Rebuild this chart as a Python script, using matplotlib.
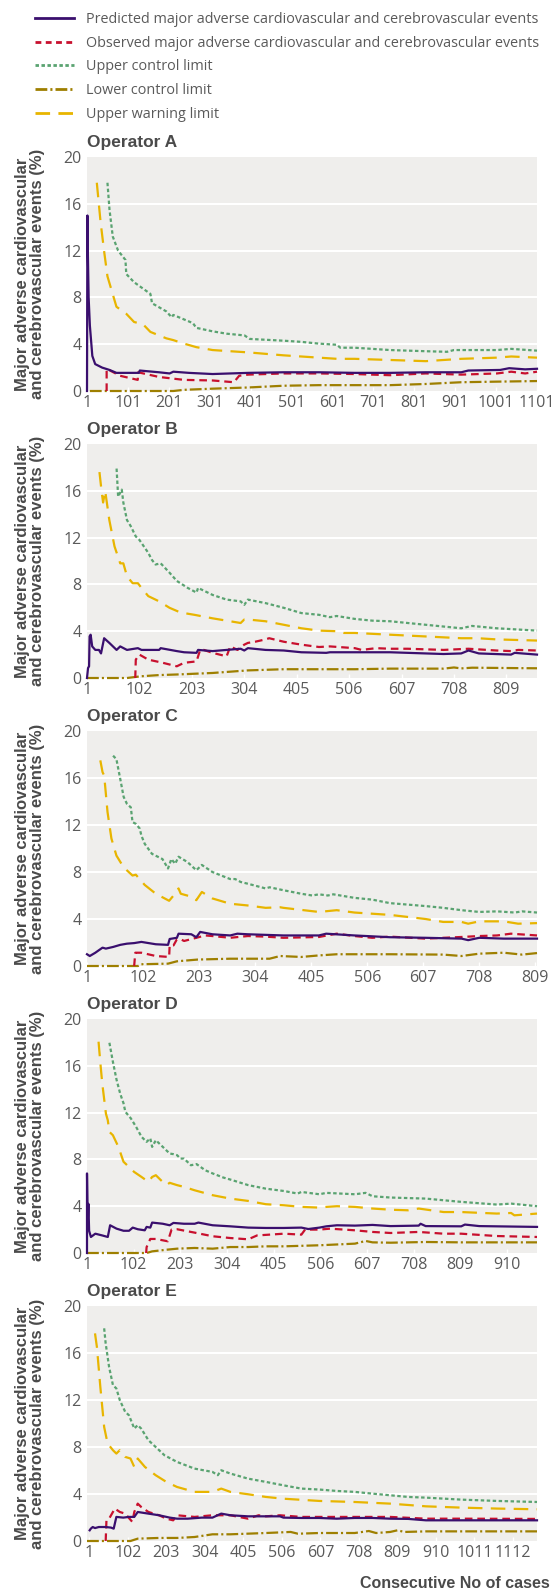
import matplotlib
matplotlib.use("Agg")
import matplotlib.pyplot as plt
from matplotlib.lines import Line2D

plt.rcParams['lines.scale_dashes'] = False

# ---- data (x = consecutive case number, y = %) ----
# Operator A
a_pred_x = [1, 2, 3, 5, 8, 14, 21, 38, 56, 73, 128, 130, 177, 203, 212, 250, 308, 395, 481, 568, 655, 742, 829, 916, 933, 1011, 1033, 1072, 1101]
a_pred_y = [0, 15, 12, 8, 5.6, 3.0, 2.3, 2.0, 1.8, 1.55, 1.55, 1.75, 1.6, 1.5, 1.65, 1.55, 1.45, 1.55, 1.6, 1.6, 1.55, 1.55, 1.6, 1.6, 1.75, 1.8, 1.95, 1.85, 1.9]
a_obs_x = [49, 49, 82, 125, 126, 177, 238, 308, 360, 373, 395, 481, 568, 655, 742, 829, 916, 1003, 1038, 1072, 1101]
a_obs_y = [0, 1.9, 1.3, 0.95, 1.6, 1.2, 0.95, 0.9, 0.75, 1.3, 1.4, 1.5, 1.5, 1.45, 1.35, 1.5, 1.4, 1.5, 1.65, 1.5, 1.65]
a_ucl_x = [51, 56, 64, 77, 95, 97, 116, 156, 160, 195, 208, 212, 260, 268, 308, 342, 386, 399, 481, 525, 568, 612, 620, 655, 742, 829, 881, 898, 1003, 1038, 1101]
a_ucl_y = [17.8, 15.5, 13.2, 12.0, 11.2, 10.0, 9.3, 8.3, 7.5, 6.8, 6.3, 6.5, 5.8, 5.4, 5.1, 4.9, 4.75, 4.45, 4.3, 4.2, 4.05, 3.95, 3.7, 3.7, 3.5, 3.4, 3.35, 3.5, 3.5, 3.6, 3.45]
a_uwl_x = [25, 34, 43, 51, 73, 97, 116, 138, 156, 195, 212, 238, 268, 308, 351, 395, 481, 568, 612, 655, 742, 829, 916, 1003, 1038, 1101]
a_uwl_y = [17.8, 14.5, 11.9, 9.8, 7.2, 6.6, 5.9, 5.7, 5.05, 4.5, 4.35, 4.05, 3.75, 3.5, 3.4, 3.3, 3.05, 2.85, 2.75, 2.75, 2.65, 2.55, 2.75, 2.85, 2.95, 2.85]
a_lcl_x = [8, 212, 238, 308, 395, 481, 568, 655, 742, 829, 916, 1003, 1101]
a_lcl_y = [0, 0, 0.1, 0.2, 0.3, 0.45, 0.5, 0.5, 0.5, 0.6, 0.75, 0.8, 0.85]
a_ticks = [1, 101, 201, 301, 401, 501, 601, 701, 801, 901, 1001, 1101]

# Operator B
b_pred_x = [1, 3, 5, 6, 8, 11, 17, 24, 28, 34, 44, 58, 65, 78, 99, 106, 140, 143, 174, 188, 212, 215, 243, 270, 297, 304, 311, 345, 380, 414, 462, 469, 517, 585, 619, 688, 722, 736, 756, 818, 825, 868]
b_pred_y = [0, 0.85, 1.0, 3.56, 3.7, 2.7, 2.4, 2.4, 2.1, 3.4, 3.0, 2.4, 2.7, 2.4, 2.55, 2.4, 2.4, 2.55, 2.3, 2.2, 2.15, 2.4, 2.3, 2.4, 2.5, 2.35, 2.55, 2.4, 2.35, 2.2, 2.15, 2.2, 2.2, 2.2, 2.15, 2.05, 2.1, 2.35, 2.1, 2.0, 2.15, 2.0]
b_obs_x = [94, 95, 102, 119, 147, 174, 188, 212, 219, 226, 243, 270, 277, 291, 304, 311, 325, 345, 352, 380, 414, 448, 469, 517, 530, 558, 585, 619, 688, 736, 790, 818, 832, 868]
b_obs_y = [0, 1.57, 2.0, 1.57, 1.3, 1.0, 1.3, 1.42, 2.4, 2.4, 2.15, 1.85, 2.7, 2.4, 2.85, 3.0, 3.1, 3.3, 3.4, 3.1, 2.85, 2.65, 2.7, 2.55, 2.4, 2.55, 2.5, 2.5, 2.4, 2.5, 2.35, 2.3, 2.4, 2.35]
b_ucl_x = [58, 61, 68, 71, 78, 85, 95, 102, 119, 126, 133, 143, 160, 174, 195, 212, 215, 243, 270, 297, 304, 311, 345, 380, 414, 448, 469, 482, 517, 551, 585, 619, 722, 743, 790, 868]
b_ucl_y = [17.9, 15.5, 16.1, 15.0, 13.5, 13.0, 12.1, 11.8, 10.7, 10.1, 9.7, 9.8, 9.0, 8.3, 7.7, 7.3, 7.7, 7.1, 6.7, 6.55, 6.25, 6.7, 6.4, 6.0, 5.55, 5.4, 5.2, 5.3, 5.05, 4.9, 4.85, 4.7, 4.25, 4.45, 4.25, 4.05]
b_uwl_x = [25, 29, 32, 36, 44, 54, 65, 71, 78, 89, 99, 106, 119, 140, 160, 181, 208, 243, 270, 297, 304, 311, 345, 380, 414, 448, 482, 496, 517, 585, 654, 722, 754, 790, 868]
b_uwl_y = [17.6, 16.0, 15.0, 16.0, 13.5, 11.25, 9.8, 9.8, 8.7, 8.1, 8.1, 7.7, 7.0, 6.55, 6.0, 5.6, 5.4, 5.1, 4.9, 4.7, 5.0, 5.0, 4.85, 4.55, 4.25, 4.05, 4.0, 3.85, 3.85, 3.7, 3.55, 3.4, 3.4, 3.3, 3.2]
b_lcl_x = [1, 78, 106, 140, 174, 243, 311, 345, 380, 448, 517, 585, 688, 708, 722, 743, 868]
b_lcl_y = [0, 0, 0.15, 0.25, 0.3, 0.43, 0.65, 0.7, 0.75, 0.75, 0.75, 0.8, 0.8, 0.9, 0.82, 0.88, 0.83]
b_ticks = [1, 102, 203, 304, 405, 506, 607, 708, 809]

# Operator C
c_pred_x = [1, 6, 16, 22, 29, 35, 48, 61, 73, 86, 99, 112, 125, 147, 150, 163, 166, 189, 198, 205, 227, 259, 272, 291, 355, 419, 432, 483, 547, 611, 676, 688, 708, 752, 812]
c_pred_y = [1.0, 0.85, 1.13, 1.33, 1.56, 1.48, 1.62, 1.8, 1.9, 1.95, 2.05, 1.95, 1.85, 1.8, 2.3, 2.4, 2.75, 2.7, 2.45, 2.9, 2.7, 2.6, 2.75, 2.7, 2.6, 2.6, 2.75, 2.6, 2.45, 2.4, 2.33, 2.2, 2.4, 2.33, 2.33]
c_obs_x = [86, 88, 99, 125, 149, 150, 157, 163, 170, 176, 198, 214, 227, 259, 291, 323, 355, 419, 451, 483, 515, 547, 611, 676, 708, 740, 765, 812]
c_obs_y = [0, 1.13, 1.13, 0.85, 0.77, 1.76, 1.76, 2.27, 2.27, 2.13, 2.4, 2.6, 2.55, 2.4, 2.55, 2.5, 2.4, 2.47, 2.75, 2.55, 2.4, 2.5, 2.33, 2.47, 2.55, 2.6, 2.75, 2.6]
c_ucl_x = [48, 54, 61, 67, 73, 80, 83, 89, 96, 99, 105, 118, 137, 147, 153, 160, 166, 182, 198, 208, 227, 259, 268, 278, 291, 323, 330, 355, 387, 407, 419, 435, 445, 483, 515, 547, 611, 643, 676, 708, 740, 772, 785, 812]
c_ucl_y = [17.9, 17.6, 15.9, 14.4, 13.8, 13.5, 12.25, 12.1, 11.7, 11.1, 10.4, 9.55, 9.1, 8.3, 9.1, 8.7, 9.3, 8.85, 8.15, 8.6, 8.0, 7.4, 7.4, 7.15, 7.0, 6.6, 6.7, 6.45, 6.15, 6.0, 6.1, 6.0, 6.1, 5.8, 5.65, 5.35, 5.1, 4.95, 4.75, 4.6, 4.65, 4.55, 4.65, 4.55]
c_uwl_x = [25, 29, 32, 38, 45, 54, 67, 83, 89, 105, 125, 149, 157, 163, 166, 170, 189, 198, 208, 227, 259, 291, 323, 349, 355, 419, 451, 483, 547, 611, 643, 676, 688, 708, 752, 778, 812]
c_uwl_y = [17.5, 16.5, 16.2, 13.1, 10.85, 9.4, 8.4, 7.7, 7.77, 6.9, 6.15, 5.55, 6.0, 6.45, 6.6, 6.15, 5.9, 5.6, 6.3, 5.75, 5.3, 5.15, 4.95, 5.0, 4.95, 4.6, 4.75, 4.55, 4.35, 4.0, 3.75, 3.75, 3.6, 3.8, 3.8, 3.6, 3.65]
c_lcl_x = [1, 93, 99, 147, 163, 201, 259, 330, 349, 387, 419, 451, 547, 643, 676, 708, 752, 785, 812]
c_lcl_y = [0, 0, 0.15, 0.2, 0.4, 0.55, 0.62, 0.62, 0.85, 0.77, 0.9, 1.0, 1.0, 0.97, 0.85, 1.05, 1.13, 0.97, 1.1]
c_ticks = [1, 102, 203, 304, 405, 506, 607, 708, 809]

# Operator D
d_pred_x = [1, 1, 2.5, 4, 5.6, 9.5, 19, 34, 46, 51, 65, 80, 92, 100, 111, 126, 130, 138, 142, 165, 180, 188, 211, 234, 242, 273, 311, 350, 388, 427, 465, 480, 504, 519, 542, 581, 619, 658, 719, 723, 734, 811, 819, 850, 975]
d_pred_y = [0, 6.8, 2.5, 4.2, 1.9, 1.37, 1.65, 1.5, 1.37, 2.37, 2.08, 1.9, 1.9, 2.17, 2.03, 1.94, 2.23, 2.17, 2.6, 2.5, 2.37, 2.57, 2.5, 2.5, 2.6, 2.37, 2.28, 2.17, 2.14, 2.14, 2.17, 2.05, 2.17, 2.28, 2.37, 2.34, 2.4, 2.3, 2.34, 2.5, 2.3, 2.28, 2.43, 2.3, 2.23]
d_obs_x = [129, 130, 138, 150, 176, 184, 196, 234, 273, 311, 350, 369, 427, 465, 473, 504, 527, 581, 619, 658, 719, 773, 811, 888, 975]
d_obs_y = [0, 0.5, 1.2, 1.2, 1.0, 2.0, 2.03, 1.74, 1.43, 1.28, 1.17, 1.5, 1.65, 1.57, 2.0, 2.0, 2.08, 1.94, 1.8, 1.71, 1.8, 1.65, 1.65, 1.45, 1.37]
d_ucl_x = [49.5, 57, 65, 73, 80, 84, 96, 107, 119, 130, 138, 142, 150, 165, 180, 188, 196, 203, 211, 226, 238, 257, 273, 296, 311, 350, 388, 427, 457, 465, 504, 519, 581, 604, 619, 658, 734, 811, 888, 919, 975]
d_ucl_y = [17.97, 16.35, 14.8, 13.6, 12.8, 12.07, 11.5, 10.8, 9.93, 9.5, 9.8, 9.07, 9.64, 9.07, 8.5, 8.45, 8.36, 8.07, 8.07, 7.5, 7.6, 7.07, 6.8, 6.45, 6.28, 5.8, 5.5, 5.3, 5.08, 5.22, 5.02, 5.14, 5.02, 5.14, 4.85, 4.74, 4.65, 4.37, 4.14, 4.22, 4.0]
d_uwl_x = [26, 30, 34, 42, 46, 49.5, 57, 69, 80, 88, 103, 119, 134, 142, 150, 161, 173, 180, 196, 211, 234, 273, 311, 350, 388, 427, 465, 504, 519, 542, 581, 619, 658, 696, 719, 773, 811, 888, 919, 926, 975]
d_uwl_y = [18.06, 16.2, 14.5, 11.9, 11.35, 10.35, 10.07, 9.07, 7.8, 7.5, 6.93, 6.5, 6.08, 6.5, 6.65, 6.22, 5.8, 6.0, 5.8, 5.65, 5.36, 4.94, 4.65, 4.45, 4.17, 4.08, 3.94, 3.88, 3.94, 4.0, 3.94, 3.8, 3.7, 3.65, 3.8, 3.5, 3.5, 3.37, 3.42, 3.22, 3.37]
d_lcl_x = [1, 130, 142, 173, 196, 234, 273, 311, 350, 388, 427, 504, 581, 604, 619, 658, 734, 811, 975]
d_lcl_y = [0, 0, 0.14, 0.28, 0.37, 0.43, 0.37, 0.51, 0.51, 0.57, 0.57, 0.66, 0.8, 1.03, 0.91, 0.88, 0.94, 0.91, 0.91]
d_ticks = [1, 102, 203, 304, 405, 506, 607, 708, 809, 910]

# Operator E
e_pred_x = [2, 5, 10, 16, 26, 44, 58, 65, 72, 90, 105, 119, 128, 156, 184, 212, 231, 259, 296, 324, 347, 371, 417, 464, 501, 510, 557, 604, 650, 697, 744, 790, 837, 884, 977, 1070, 1175]
e_pred_y = [0.91, 1.05, 1.19, 1.1, 1.19, 1.19, 1.14, 1.05, 2.05, 1.99, 2.05, 2.05, 2.47, 2.33, 2.19, 1.99, 1.9, 1.9, 1.99, 1.99, 2.33, 2.19, 2.1, 2.1, 2.1, 1.99, 1.96, 1.96, 1.9, 1.96, 1.96, 1.9, 1.88, 1.76, 1.76, 1.76, 1.76]
e_obs_x = [44, 46, 53, 68, 81, 95, 114, 119, 128, 137, 156, 184, 203, 221, 231, 277, 324, 371, 417, 445, 464, 501, 557, 604, 697, 790, 884, 977, 1175]
e_obs_y = [0, 1.76, 1.9, 2.76, 2.47, 2.33, 1.62, 2.47, 3.18, 2.9, 2.47, 2.19, 1.9, 1.76, 2.19, 2.05, 2.19, 2.19, 1.9, 2.19, 2.1, 2.19, 2.05, 2.05, 2.05, 2.05, 1.9, 1.9, 1.88]
e_ucl_x = [40, 44, 53, 63, 72, 81, 95, 105, 119, 128, 137, 156, 184, 198, 231, 277, 324, 338, 347, 371, 417, 464, 510, 557, 604, 650, 697, 744, 790, 837, 884, 977, 1070, 1175]
e_ucl_y = [18.1, 16.8, 14.8, 13.27, 12.98, 11.99, 11.0, 10.7, 9.57, 9.86, 9.57, 8.58, 7.73, 7.3, 6.73, 6.16, 5.88, 5.6, 6.02, 5.74, 5.31, 5.03, 4.74, 4.46, 4.38, 4.26, 4.18, 4.03, 3.89, 3.75, 3.69, 3.52, 3.41, 3.32]
e_uwl_x = [16, 21, 30, 40, 49, 63, 72, 81, 95, 109, 119, 128, 147, 175, 203, 231, 277, 296, 324, 347, 371, 417, 464, 510, 604, 697, 790, 884, 977, 1070, 1175]
e_uwl_y = [17.67, 16.5, 13.1, 9.7, 8.3, 7.73, 7.44, 7.73, 7.16, 7.02, 6.3, 7.02, 6.3, 5.6, 5.03, 4.6, 4.18, 4.18, 4.18, 4.46, 4.18, 3.98, 3.75, 3.6, 3.41, 3.32, 3.18, 2.95, 2.84, 2.76, 2.7]
e_lcl_x = [-5, 109, 128, 184, 231, 277, 324, 371, 464, 529, 548, 604, 697, 734, 753, 790, 809, 827, 884, 977, 1175]
e_lcl_y = [0, 0, 0.2, 0.26, 0.26, 0.34, 0.57, 0.57, 0.68, 0.77, 0.62, 0.68, 0.68, 0.85, 0.68, 0.77, 0.91, 0.77, 0.82, 0.82, 0.82]
e_ticks = [1, 102, 203, 304, 405, 506, 607, 708, 809, 910, 1011, 1112]

titles = ['Operator A', 'Operator B', 'Operator C', 'Operator D', 'Operator E']
xlims = [(1, 1101), (1, 868), (1, 812), (1, 975), (-5, 1175)]
yticks = [0, 4, 8, 12, 16, 20]

legend_labels = ['Predicted major adverse cardiovascular and cerebrovascular events',
                 'Observed major adverse cardiovascular and cerebrovascular events',
                 'Upper control limit',
                 'Lower control limit',
                 'Upper warning limit']

panels = [
    (a_pred_x, a_pred_y, a_obs_x, a_obs_y, a_ucl_x, a_ucl_y, a_lcl_x, a_lcl_y, a_uwl_x, a_uwl_y, a_ticks),
    (b_pred_x, b_pred_y, b_obs_x, b_obs_y, b_ucl_x, b_ucl_y, b_lcl_x, b_lcl_y, b_uwl_x, b_uwl_y, b_ticks),
    (c_pred_x, c_pred_y, c_obs_x, c_obs_y, c_ucl_x, c_ucl_y, c_lcl_x, c_lcl_y, c_uwl_x, c_uwl_y, c_ticks),
    (d_pred_x, d_pred_y, d_obs_x, d_obs_y, d_ucl_x, d_ucl_y, d_lcl_x, d_lcl_y, d_uwl_x, d_uwl_y, d_ticks),
    (e_pred_x, e_pred_y, e_obs_x, e_obs_y, e_ucl_x, e_ucl_y, e_lcl_x, e_lcl_y, e_uwl_x, e_uwl_y, e_ticks),
]

# ---- styles ----
c_pred = '#3a0f6e'
c_obs = '#c8102e'
c_ucl = '#5aa371'
c_lcl = '#9e7f00'
c_uwl = '#e8b500'
bg = '#efeeec'
txt = '#5a5a5a'
lw = 1.6
bold_font = 'Liberation Sans'
tick_font = 'Open Sans'

W, H = 555, 1592
fig = plt.figure(figsize=(W / 100, H / 100), dpi=100)

# axes box in pixels: left, right, (top, bottom) per panel
left_px, right_px = 87, 537
rows_px = [(157, 391), (444, 678), (731, 966), (1019, 1253), (1306, 1541)]

handles = None
for i, (p, title, xl) in enumerate(zip(panels, titles, xlims)):
    px, py, ox, oy, ux, uy, lx, ly, wx, wy, ticks = p
    top, bot = rows_px[i]
    ax = fig.add_axes([left_px / W, 1 - bot / H, (right_px - left_px) / W, (bot - top) / H])
    ax.set_facecolor(bg)
    for s in ax.spines.values():
        s.set_visible(False)

    l_lcl, = ax.plot(lx, ly, color=c_lcl, lw=lw, dashes=(8.5, 2.2, 1.5, 2.2), clip_on=False, zorder=3)
    l_uwl, = ax.plot(wx, wy, color=c_uwl, lw=lw, dashes=(10.5, 6), clip_on=False, zorder=3)
    l_ucl, = ax.plot(ux, uy, color=c_ucl, lw=lw, dashes=(2.5, 1.8), clip_on=False, zorder=3)
    l_obs, = ax.plot(ox, oy, color=c_obs, lw=lw, dashes=(5.5, 3.5), clip_on=False, zorder=4)
    l_pred, = ax.plot(px, py, color=c_pred, lw=lw, clip_on=False, zorder=5)
    if handles is None:
        handles = [l_pred, l_obs, l_ucl, l_lcl, l_uwl]

    ax.set_xlim(*xl)
    ax.set_ylim(0, 20)
    ax.set_yticks(yticks)
    ax.set_xticks(ticks)
    ax.set_xticklabels([str(t) for t in ticks])
    for g in yticks[1:-1]:
        ax.axhline(g, color='white', lw=1.5, zorder=1)
    ax.tick_params(axis='y', length=0, pad=4, labelsize=11.5, labelcolor=txt)
    ax.tick_params(axis='x', direction='in', length=3, width=1, color='white',
                   pad=3, labelsize=11.5, labelcolor=txt)
    for lab in ax.get_xticklabels() + ax.get_yticklabels():
        lab.set_fontfamily(tick_font)

    ax.annotate(title, xy=(0, 1), xycoords='axes fraction', xytext=(0, 7),
                textcoords='offset points', ha='left', va='baseline',
                fontsize=12.5, fontweight='bold', family=bold_font, color='#4a4a4a')

    fig.text(30 / W, 1 - (top + bot) / 2 / H,
             'Major adverse cardiovascular\nand cerebrovascular events (%)',
             rotation=90, ha='center', va='center', ma='center', linespacing=1.05,
             fontsize=12, fontweight='bold', family=bold_font, color='#4a4a4a')

fig.text(550 / W, 1 - 1588 / H, 'Consecutive No of cases', ha='right', va='baseline',
         fontsize=11.5, fontweight='bold', family=bold_font, color='#4a4a4a')

leg_handles = [Line2D([], [], color=h.get_color(), lw=2, dashes=d) if d else
               Line2D([], [], color=h.get_color(), lw=2)
               for h, d in zip(handles, [None, (4.2, 3.2), (2.5, 1.8), (8.5, 2.2, 1.5, 2.2), (10.5, 6)])]
fig.legend(leg_handles, legend_labels, loc='upper left', bbox_to_anchor=(35 / W, 1 - 12 / H),
           frameon=False, borderpad=0, borderaxespad=0, handlelength=2.7, handletextpad=0.85,
           labelspacing=0.6, prop={'family': tick_font, 'size': 10.4}, labelcolor=txt)

fig.savefig('out.png', dpi=100)
